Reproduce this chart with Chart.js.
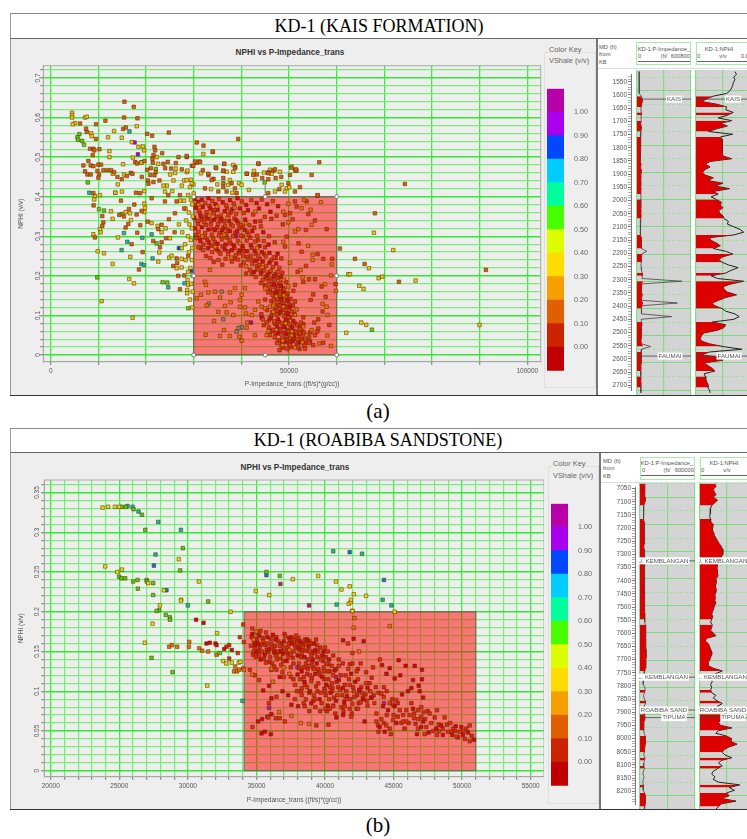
<!DOCTYPE html>
<html>
<head>
<meta charset="utf-8">
<title>KD-1 crossplots</title>
<script src="https://cdn.jsdelivr.net/npm/chart.js@4/dist/chart.umd.min.js"></script>
<style>
html, body { margin: 0; padding: 0; background: #fff; width: 747px; height: 839px; overflow: hidden; }
canvas { position: absolute; filter: blur(0.3px); }
.box { position: absolute; box-sizing: border-box; }
.t { position: absolute; white-space: nowrap; font-family: "Liberation Sans", sans-serif; font-size: 6.5px; color: #555; line-height: 1; }
.serif { font-family: "Liberation Serif", serif; color: #000; transform: translateX(-50%); }
.panelTitle { font-size: 18px; }
.caption { font-size: 21px; }
.chartTitle { font-weight: bold; font-size: 8.2px; color: #333; transform: translateX(-50%); }
.key { font-size: 7.4px; color: #666; }
.hdr { font-size: 5.8px; color: #555; }
.mid { transform: translateX(-50%); }
.end { transform: translateX(-100%); }
</style>
</head>
<body>
<!-- panel a frame -->
<div class="box" style="left:10px;top:13px;width:737px;height:26px;border-top:1.5px solid #888;border-left:1.5px solid #999;border-bottom:1.5px solid #666"></div>
<div class="box" style="left:10px;top:39px;width:586px;height:356px;background:#eee;border-left:1.5px solid #999"></div>
<div class="box" style="left:596px;top:39px;width:2px;height:356px;background:#777"></div>
<div class="box" style="left:10px;top:395px;width:737px;height:1px;background:#333"></div>
<div class="box" style="left:544px;top:52px;width:52px;height:336px;border:1px solid #dedede;border-top:1px solid #e2e2e2"></div>
<div class="t serif panelTitle" style="left:379px;top:17px">KD-1 (KAIS FORMATION)</div>
<div class="t serif caption" style="left:378px;top:401px">(a)</div>
<div class="t chartTitle" style="left:290px;top:49px">NPHI vs P-Impedance_trans</div>
<div class="t key" style="left:549px;top:46px;background:#eee">Color Key</div>
<div class="t key" style="left:549px;top:57px;background:#eee">VShale (v/v)</div>
<div class="t hdr" style="left:599px;top:45px">MD (ft)</div>
<div class="t hdr" style="left:599px;top:52px">from</div>
<div class="t hdr" style="left:599px;top:60px">KB</div>
<div class="box" style="left:598px;top:68px;width:149px;height:1px;background:#ddd"></div>
<div class="box" style="left:636px;top:42px;width:55px;height:23px;border:1.5px solid #a8eaa8"></div>
<div class="box" style="left:696px;top:42px;width:56px;height:23px;border:1.5px solid #a8eaa8"></div>
<div class="t hdr mid" style="left:664px;top:47px">KD-1:P-Impedance_</div>
<div class="t hdr" style="left:638px;top:54px">0</div>
<div class="t hdr mid" style="left:664px;top:54px">(ft/</div>
<div class="t hdr end" style="left:690px;top:54px">600800</div>
<div class="box" style="left:638px;top:61px;width:52px;height:1px;background:#666"></div>
<div class="t hdr mid" style="left:719px;top:47px">KD-1:NPHI</div>
<div class="t hdr" style="left:697px;top:54px">0</div>
<div class="t hdr mid" style="left:723px;top:54px">v/v</div>
<div class="t hdr" style="left:741px;top:54px">0.8</div>
<div class="box" style="left:697px;top:61px;width:50px;height:1px;background:#666"></div>

<!-- panel b frame -->
<div class="box" style="left:10px;top:428px;width:737px;height:25px;border-top:1.5px solid #888;border-left:1.5px solid #999;border-bottom:1.5px solid #666"></div>
<div class="box" style="left:10px;top:453px;width:589px;height:356px;background:#eee;border-left:1.5px solid #999"></div>
<div class="box" style="left:599px;top:453px;width:2px;height:356px;background:#777"></div>
<div class="box" style="left:10px;top:809px;width:737px;height:1px;background:#333"></div>
<div class="box" style="left:548px;top:466px;width:51px;height:338px;border:1px solid #dedede"></div>
<div class="t serif panelTitle" style="left:378px;top:431px">KD-1 (ROABIBA SANDSTONE)</div>
<div class="t serif caption" style="left:378px;top:815px">(b)</div>
<div class="t chartTitle" style="left:295px;top:464px">NPHI vs P-Impedance_trans</div>
<div class="t key" style="left:553px;top:460px;background:#eee">Color Key</div>
<div class="t key" style="left:553px;top:472px;background:#eee">VShale (v/v)</div>
<div class="t hdr" style="left:603px;top:459px">MD (ft)</div>
<div class="t hdr" style="left:603px;top:466px">from</div>
<div class="t hdr" style="left:603px;top:474px">KB</div>
<div class="box" style="left:601px;top:482px;width:146px;height:1px;background:#ddd"></div>
<div class="box" style="left:640px;top:457px;width:55px;height:23px;border:1.5px solid #a8eaa8"></div>
<div class="box" style="left:700px;top:457px;width:54px;height:23px;border:1.5px solid #a8eaa8"></div>
<div class="t hdr mid" style="left:667px;top:461px">KD-1:P-Impedance_</div>
<div class="t hdr" style="left:642px;top:468px">0</div>
<div class="t hdr mid" style="left:667px;top:468px">(ft/</div>
<div class="t hdr end" style="left:694px;top:468px">600000</div>
<div class="box" style="left:641px;top:475px;width:53px;height:1px;background:#666"></div>
<div class="t hdr mid" style="left:724px;top:461px">KD-1:NPHI</div>
<div class="t hdr" style="left:701px;top:468px">0</div>
<div class="t hdr mid" style="left:727px;top:468px">v/v</div>
<div class="box" style="left:701px;top:475px;width:46px;height:1px;background:#666"></div>

<canvas id="kaisScatter" width="533" height="335" style="left:11px;top:60px"></canvas>
<canvas id="kaisKey" width="50" height="300" style="left:544px;top:80px"></canvas>
<canvas id="kaisDepthAxis" width="34" height="325" style="left:598px;top:70px"></canvas>
<canvas id="kaisImpTrack" width="56" height="325" style="left:636px;top:70px"></canvas>
<canvas id="kaisNphiTrack" width="56" height="325" style="left:695px;top:70px"></canvas>

<canvas id="roabibaScatter" width="533" height="335" style="left:11px;top:474px"></canvas>
<canvas id="roabibaKey" width="50" height="300" style="left:548px;top:495px"></canvas>
<canvas id="roabibaDepthAxis" width="34" height="326" style="left:602px;top:483px"></canvas>
<canvas id="roabibaImpTrack" width="57" height="326" style="left:639px;top:483px"></canvas>
<canvas id="roabibaNphiTrack" width="55" height="326" style="left:699px;top:483px"></canvas>

<script>
// colour key
const keyBands = [[-0.1,0],[0,0.1],[0.1,0.2],[0.2,0.3],[0.3,0.4],[0.4,0.5],[0.5,0.6],[0.6,0.7],[0.7,0.8],[0.8,0.9],[0.9,1],[1,1.1]];
const keyColors = ['#c00000','#cc2400','#e06000','#f5a000','#ffdc00','#dcff00','#48ff00','#00ff9c','#00ccff','#0048ff','#aa00f0','#b800a8'];

// panel a crossplot, [P-impedance, NPHI], grouped by VShale colour
const kaisDeepRed = [
[30200,.395],[30900,.387],[31700,.392],[33100,.396],[34600,.381],[36100,.386],[37600,.391],[39200,.396],[41000,.379],[43200,.384],[45400,.381],[47700,.376],
[30400,.372],[31900,.374],[33500,.37],[35000,.367],[36500,.363],[38100,.368],[39700,.37],[41400,.366],[43700,.37],[46100,.362],
[30100,.347],[31500,.35],[32900,.345],[34300,.342],[35800,.344],[37400,.339],[39000,.34],[40800,.342],[42900,.337],
[30300,.32],[31700,.323],[33100,.317],[34500,.315],[36000,.316],[37600,.313],[39100,.312],[40700,.316],[42300,.313],[44600,.31],
[31400,.288],[33200,.284],[35000,.281],[36700,.279],[38400,.277],[40200,.276],[42000,.278],[43800,.275],[45700,.279],
[33000,.27],[34800,.268],[36500,.267],[38000,.265],[39600,.264],[41200,.262],[42800,.263],[44300,.26],[45900,.258],[47600,.256],
[43100,.238],[44500,.236],[45900,.233],[47300,.231],[42700,.21],[44100,.206],[45500,.203],[46900,.2],[48300,.198],
[46900,.178],[48300,.175],[47300,.16],[48800,.157],[48200,.141],[49600,.138],[48700,.124],[50100,.12],[48200,.108],[49800,.105],
[46100,.093],[47700,.09],[49300,.088],[50900,.086],[47500,.072],[49100,.07],[50700,.068],[47800,.054],[49400,.052],[51000,.05],[49200,.033],[50800,.035],[52400,.032]
];
const kaisRed = [
[32400,.384],[33900,.389],[35300,.394],[36800,.378],[38400,.383],[40100,.388],[42100,.391],[44300,.393],[46600,.389],
[31100,.365],[32700,.361],[34200,.358],[35700,.352],[37300,.354],[38900,.357],[40500,.359],[42500,.355],[44900,.349],[47400,.352],
[30800,.339],[32200,.336],[33600,.33],[35100,.331],[36600,.327],[38200,.326],[39900,.329],[41700,.328],[44100,.325],
[31000,.311],[32400,.308],[33800,.304],[35300,.302],[36800,.305],[38300,.3],[39900,.302],[41500,.304],[43300,.301],[45800,.3],
[30500,.295],[32300,.297],[34100,.294],[35900,.292],[37500,.29],[39300,.288],[41100,.289],[42900,.287],[44700,.288],[47000,.285],
[31000,.272],[32000,.265],[33900,.26],[35600,.256],[37200,.255],[38800,.252],[40400,.25],[42000,.251],[43500,.25],[45100,.249],[46800,.247],
[33500,.245],[35200,.24],[36700,.243],[38000,.236],[39300,.241],[40500,.234],[41500,.24],[42300,.23],[43800,.228],[45200,.225],[46600,.222],[48000,.22],
[41800,.215],[43400,.216],[44800,.214],[46200,.212],[47600,.21],[43000,.197],[44500,.19],[45800,.186],[47000,.189],[48100,.183],
[45200,.175],[46100,.17],[47600,.167],[49000,.165],[45600,.158],[46500,.152],[48000,.149],[49500,.146],[46800,.14],[47500,.133],[48900,.13],[47200,.122],[48000,.116],[49400,.113],[46500,.108],[47400,.102],[49000,.098],[50600,.11],
[44500,.09],[45300,.082],[46900,.085],[48500,.08],[50100,.078],[51700,.075],[52500,.082],[45800,.07],[46700,.064],[48300,.062],[49900,.06],[51500,.058],[52300,.065],[53100,.057],
[46000,.05],[47000,.045],[48600,.044],[50200,.042],[51800,.04],[52600,.047],[53400,.038],[54200,.045],[47500,.03],[48400,.024],[50000,.027],[51600,.026],[53200,.024],[48000,.012],[49700,.015],
[56000,.403],[55440,.34],[57890,.318],[52640,.261],[56000,.255],[57190,.243],[59070,.243],[53550,.225],[51800,.21],[48380,.244],[55440,.191],[54180,.191],[53000,.185],[56840,.173],[59770,.179],[55090,.153],[57680,.147],[54530,.139],[57050,.11],[56140,.09],[58450,.076],[56140,.067],[55300,.082],[57190,.031],[54250,.031],[55090,.025],[51950,.021],[53340,.016],[50200,.025],[49500,.038],[52290,.055],[55440,.05],[55930,.059],[53000,.095],[49850,.095],[50200,.124],[51250,.135],[50900,.162],[51250,.177],[54040,.356],[51250,.388],[51600,.375],[53690,.388],[50200,.358],[50760,.343],[49150,.354],[53550,.316],[49500,.299],[52000,.282],[49150,.274]
];
const kaisDense = [
[30600,.378],[31300,.358],[31800,.341],[32600,.329],[33300,.377],[34050,.366],[34800,.349],[35450,.338],[36250,.322],[37000,.371],[37750,.36],[38550,.345],[39350,.333],[40300,.324],[30450,.303],[31250,.297],[32050,.279],[32850,.291],[33650,.276],[34450,.285],[35250,.262],[36050,.274],[36900,.297],[37700,.282],[38550,.27],[39450,.257],[40350,.269],[41250,.248],[42150,.271],[43050,.255],[30950,.331],[32500,.35],[34000,.318],[35550,.309],[37100,.317],[38700,.309],[40300,.3],[41900,.296],[43500,.29],[45000,.272],
[33700,.34],[34950,.322],[36350,.338],[37800,.33],[39500,.32],[41200,.311],[42700,.322],[44000,.338],[46300,.344],[48700,.33],[31500,.27],[32600,.25],[34200,.235],[36000,.228],[37300,.262],[38500,.244],[39900,.226],[41000,.206],[40500,.262],[42500,.24],[43900,.243],[44800,.255],[46300,.24],[47200,.245],
[42200,.205],[43300,.225],[44400,.212],[45100,.198],[45900,.209],[46500,.193],[47200,.205],[47800,.195],[48600,.208],[44100,.182],[44900,.176],[45500,.192],[46300,.18],[47100,.172],[47900,.179],[48700,.17],[49400,.184],[46000,.164],[46700,.157],[47400,.152],[48200,.161],[48900,.147],[49700,.155],[50300,.142],[46300,.136],[47100,.145],[47800,.127],[48500,.135],[49200,.122],[50000,.13],[50800,.125],[47000,.112],[47800,.105],[48500,.113],[49300,.102],[50200,.095],[51100,.104],[46300,.098],[45800,.088],[47000,.079],[47900,.083],[48800,.074],[49700,.082],[50500,.072],[51300,.08],[52200,.07],[53000,.078],[46300,.06],[47200,.055],[48000,.066],[48800,.056],[49600,.063],[50400,.053],[51200,.06],[52000,.052],[52800,.059],[53700,.05],[54500,.057],[47800,.037],[48600,.032],[49400,.04],[50300,.033],[51100,.041],[51900,.034],[52700,.04],[53500,.03],[54400,.034],[48800,.018],[50400,.02],[52200,.015],[44700,.075],[44200,.103],[45400,.113],[45000,.14]
];
const kaisBrown = [
[56700,.386],[54740,.329],[54040,.276],[54950,.253],[54950,.24],[58930,.229],[52430,.215],[50200,.233],[58800,.201],[52850,.196],[57540,.179],[59840,.162],[57890,.122],[57050,.129],[58100,.101],[58030,.049],[56350,.029],[58790,.023],[52780,.032],[51250,.018],[48660,.025],[50550,.05],[53690,.05],[54740,.063],[51250,.101],[51600,.115],[48800,.122],[49150,.147],[49850,.173],[48940,.151],[52650,.371],[49850,.382],[53130,.392],[54530,.367],[48800,.362],[49850,.335],[51950,.318],[51250,.312],[48800,.286],
[30625,.143],[31530,.152],[32370,.185],[32580,.177],[33070,.158],[34470,.16],[37610,.158],[38660,.169],[32720,.125],[35170,.109],[36570,.124],[37750,.133],[35520,.145],[38310,.101],[36910,.108],[34260,.086],[36360,.063],[32510,.051],[35520,.048],[37610,.048],[39570,.046],[40060,.036],[41110,.069],[41250,.082],[42860,.05],[45300,.05],[40760,.12],[39710,.122],[40970,.105],[42160,.101],[42860,.114],[39710,.139],[40060,.152],[40760,.169],[43560,.135],[44250,.122],[44950,.118],[46000,.122],[46700,.109],
[31000,.38],[34900,.375],[38600,.372],[42900,.362],[33300,.352],[37100,.346],[41000,.333],[36400,.304],[31800,.3],[39700,.282],[34500,.273],[43300,.27],[37900,.246],[41000,.224],[44400,.222],[45000,.168],[48900,.19],[47300,.148],[46700,.125],[49300,.08],[45700,.06],[48700,.036],[50600,.06],[53000,.072],[33400,.215]
];
const kaisOrange = [
[15470,.64],[17430,.627],[15400,.6],[18200,.598],[9520,.583],[11480,.592],[6160,.585],[20230,.559],[21280,.554],[24780,.562],[39340,.546],[30660,.537],[32060,.529],[34020,.513],
[15190,.571],[15750,.575],[7560,.564],[7420,.572],[9520,.546],[8260,.521],[8960,.521],[9170,.517],[10220,.52],[8820,.505],[7910,.49],[6860,.479],[8400,.479],[8960,.477],[10010,.481],[10570,.481],[7210,.464],[7700,.456],[8400,.456],[9800,.465],[10150,.456],[10010,.448],[11060,.467],[11900,.467],[12670,.467],[13300,.462],
[14000,.45],[14910,.444],[15960,.452],[16800,.46],[17150,.458],[19110,.45],[17710,.488],[18130,.484],[19670,.49],[20230,.468],[21000,.472],[22050,.462],[20860,.455],[21770,.454],[20370,.441],[20510,.433],[21560,.437],[22820,.441],[21770,.526],[21910,.517],[21560,.505],[21350,.496],[23380,.51],[21420,.486],
[23660,.483],[24570,.488],[26250,.485],[24010,.472],[25270,.471],[26810,.5],[28560,.5],[27510,.469],[29610,.478],[30660,.486],[31360,.488],[31920,.467],[33110,.454],[34160,.445],[34720,.472],[36260,.465],[36400,.483],[38710,.475],[43610,.483],[41160,.458],[43260,.456],[45710,.462],[46760,.466],[48370,.45],[50470,.473],[51310,.466],
[28520,.503],[33980,.514],[30270,.489],[29920,.478],[33070,.458],[36420,.483],[38660,.472],[36210,.466],[36210,.447],[33770,.442],[36210,.434],[37960,.434],[36210,.424],[38660,.421],[32370,.421],[35170,.413],[36910,.413],[39010,.409],[41110,.458],[42500,.455],[43550,.484],[44390,.447],[45650,.459],[47050,.469],[47190,.447],[45650,.444],[49850,.434],[50200,.455],[51450,.469],[56340,.487],[54740,.455],[45650,.409],[47960,.419],[51240,.413],[52290,.424],[56000,.404],
[8940,.409],[9010,.378],[10830,.351],[11040,.335],[10830,.326],[9290,.297],[14390,.354],[15370,.35],[16280,.331],[15720,.322],[14740,.39],[17890,.41],[18730,.409],[17540,.38],[16420,.369],[18030,.355],[19080,.364],[18800,.328],[18170,.309],[16980,.28],[19290,.26],[18520,.216],
[20340,.337],[23270,.329],[22570,.318],[21520,.288],[23270,.285],[24180,.295],[22920,.272],[26420,.244],[25720,.225],[26560,.232],[28860,.25],[27110,.166],[26770,.2],[28030,.201],
[21170,.396],[24670,.404],[27110,.404],[23970,.388],[26420,.388],[26070,.358],[28000,.37],[24800,.343],[26000,.31],
[74310,.432],[68020,.358],[60680,.269],[63830,.243],[65850,.23],[73050,.185],[91300,.215]
];
const kaisYellow = [
[4480,.612],[4480,.606],[4480,.6],[5110,.586],[4620,.583],[7210,.6],[7560,.602],[18060,.578],[14910,.549],[13300,.566],[12040,.55],[8470,.56],[8610,.553],[17010,.538],[18410,.526],[19320,.527],[19600,.517],[12320,.515],[12320,.5],[13020,.458],[14070,.431],[15400,.456],[15190,.482],[17220,.499],[19040,.486],[22260,.5],[22540,.483],[26250,.471],[25060,.456],[26110,.46],[28560,.462],[28700,.466],[25760,.441],[24360,.428],[23660,.428],[28000,.441],[29400,.443],[27510,.428],[29960,.431],[29400,.392],
[30000,.408],[29220,.424],[29570,.434],[28520,.442],[32020,.508],[31110,.489],[31530,.459],[34600,.474],[38300,.48],[36910,.463],[38310,.463],[34960,.431],[37260,.43],[37610,.442],[39500,.434],[40060,.43],[33630,.419],[38100,.41],[41590,.417],[42650,.465],[42860,.442],[44740,.461],[46000,.468],[46350,.458],[48100,.463],[48450,.43],[49500,.421],[50540,.476],[51590,.466],[47050,.413],[49150,.413],[50050,.424],
[9290,.402],[10340,.404],[9150,.393],[12650,.363],[12990,.344],[10340,.318],[10480,.31],[8940,.305],[15720,.361],[16630,.358],[19640,.383],[19780,.372],[19640,.361],[16840,.341],[14110,.297],[13550,.41],[14950,.413],[19640,.414],[9850,.262],[11180,.257],[16700,.248],[13000,.23],[16490,.192],[17470,.181],[10690,.136],[17190,.094],
[21170,.333],[22430,.326],[23270,.31],[24110,.32],[25000,.295],[22780,.259],[24880,.246],[25370,.251],[27470,.243],[26420,.219],[27470,.221],[28860,.177],[28650,.164],[28650,.156],[28860,.21],[22570,.236],[25510,.414],[23970,.413],[28860,.404],
[62430,.204],[62780,.204],[67810,.309],[71870,.265],[66760,.219],[68790,.194],[69560,.198],[76550,.188],[64740,.175],[65640,.167],[65160,.082],[66200,.076],[62010,.056],[89970,.076],
[28400,.34],[29100,.33],[29600,.32],[28800,.3],[29400,.29],[29700,.27],[29000,.26],[29600,.24],[28300,.24],[29300,.22],[29800,.2],[28700,.19],[29500,.18],[29800,.16],[29200,.14],[29700,.12],[26900,.33],[27600,.31],[28200,.28],[27500,.27],[29000,.36],[29800,.35],[28300,.37],[27200,.39],[28000,.39],[29700,.38]
];
const kaisGreen = [[6020,.558],[5600,.55],[5740,.544],[6580,.541],[7000,.531],[7770,.436],[10130,.368],[11180,.365],[13550,.41],[14880,.356],[22220,.282],[9780,.196],[23480,.184],[24460,.183],[28860,.118],[67390,.064],[22050,.47],[44880,.436]];
const kaisTeal = [[16520,.565],[19040,.487],[15370,.308],[21170,.305],[16070,.286],[19220,.296],[14880,.265],[19010,.23],[19570,.227],[21380,.244],[24670,.171],[28090,.181],[8100,.41]];
const kaisBlue = [[29420,.212],[26900,.27]];
const kaisPurple = [[17600,.537],[18300,.507]];
const kaisDim = [[35860,.16],[40060,.07],[39000,.059],[39400,.068],[36200,.09],[33200,.13]];
const kaisMagenta = [[44250,.095],[42020,.082],[38900,.3]];

// panel b crossplot
const roabibaDeepRed = [
[34700,.172],[35200,.17],[35100,.16],[35800,.168],[35900,.153],[36400,.165],[36300,.149],[37000,.163],[36900,.147],[37600,.16],[38200,.163],[38000,.145],[38700,.165],[38500,.143],[39200,.16],[39100,.14],[39800,.145],[39400,.135],[40300,.14],[35300,.14],[37200,.138],[38300,.125],
[34900,.158],[35600,.146],[36200,.171],[36800,.151],[37400,.167],[38100,.153],[38800,.156],[39300,.152],[39900,.15],[35000,.149],
[38000,.121],[38500,.112],[38900,.1],[39300,.122],[39800,.118],[40100,.108],[40400,.098],[40700,.126],[41000,.114],[41300,.104],[41600,.094],[41900,.122],[42200,.112],[42500,.102],[42800,.09],[43100,.104],[43400,.092],[39000,.085],[39600,.09],[40200,.082],[40800,.088],[41400,.086],
[47020,.055],[48480,.057],[49530,.056],[50060,.045],[50860,.039],[49280,.045],[48120,.053],[46710,.046],[47560,.048],[45200,.06],[44350,.049],[43990,.055],[45080,.081],[44600,.076],[44230,.081],[46420,.078],[47150,.062],[48600,.045],[49940,.055],[50430,.048],[30600,.19],[31140,.186],[31360,.16],[31600,.161],[32010,.16],[32650,.153],[33200,.152],
[42820,.163],[42090,.166],[41320,.164],[45370,.139],[45880,.132],[47070,.127],[46540,.132],[47070,.115],[46420,.114],[45490,.12],[44720,.129],[44160,.133],[45080,.116],[44480,.122],[46300,.104],[46830,.107],[46900,.1],[45620,.096],[46050,.1],[47150,.092],
[35370,.047],[35610,.049],[36050,.046],[35120,.062],[35410,.065],[36090,.071],[35490,.101],[35920,.107],[36090,.127],[36700,.118],[36900,.1],[37310,.095],[36090,.091],[37550,.083],[38040,.081],[41320,.07],[40830,.067],[42890,.062]
];
const roabibaRed = [
[34900,.166],[35500,.163],[34600,.157],[36100,.16],[35400,.15],[36700,.157],[36000,.143],[37300,.155],[36500,.14],[37900,.17],[37700,.15],[38400,.156],[38900,.15],[38100,.135],[39500,.15],[38800,.132],[40000,.155],[39900,.13],[34800,.15],[36800,.133],[37500,.13],[38900,.12],
[34700,.179],[35300,.176],[35700,.174],[36100,.155],[36600,.163],[37100,.169],[37500,.146],[37800,.158],[38300,.148],[38600,.159],[39000,.145],[39400,.158],[39700,.14],[40200,.15],[40500,.132],[40100,.135],[35700,.136],[36300,.131],[36900,.124],[37500,.118],
[34900,.155],[35200,.145],[35800,.16],[36400,.145],[37000,.155],[37300,.143],[38000,.16],[38600,.135],[39200,.128],[40600,.12],[39500,.11],[40000,.1],[40500,.11],[41100,.102],[41500,.12],[41800,.108],[42100,.1],[42400,.115],[42700,.098],[43000,.11],[43300,.1],[43600,.085],
[38200,.115],[38700,.105],[39200,.095],[38300,.095],[37800,.108],[39700,.098],[40300,.09],[40900,.095],[41500,.09],[42000,.084],[42600,.086],[43100,.082],[38600,.09],[39300,.08],[40000,.078],[40600,.082],[41200,.08],[41800,.078],[42300,.078],[37800,.09],[38300,.104],[39000,.113],[39900,.125],[40500,.1],[41000,.132],[41700,.128],[42300,.125],
[50550,.037],[50300,.053],[50550,.057],[49820,.049],[49330,.053],[49140,.06],[49210,.049],[48970,.049],[48600,.053],[48720,.067],[48170,.076],[47630,.072],[47750,.06],[47390,.055],[46780,.053],[47270,.046],[48170,.045],[47020,.068],[47190,.074],[47020,.08],[46780,.076],[45930,.076],[46170,.07],[46490,.066],[45930,.062],[45570,.06],[44720,.053],[43750,.062],[43870,.057],[44470,.057],[44960,.064],[43750,.072],[44110,.065],[44960,.083],[44720,.085],[45200,.089],[45450,.076],[45690,.062],[44280,.093],[44110,.097],[45000,.07],[46800,.065],[48300,.05],[49600,.043],[50100,.05],
[34030,.184],[33790,.168],[34080,.162],[33640,.148],[33010,.158],[32810,.156],[32090,.158],[33010,.141],[42000,.148],[41680,.16],[44000,.14],
[34710,.055],[35850,.067],[36410,.066],[36700,.066],[35190,.114],[36460,.127],[37000,.118],[36460,.093],[38520,.081],[34520,.127],[34880,.12],[39370,.057],[40250,.058],[41920,.068],[42410,.078],[40340,.078],[40590,.081],[41440,.081],[35900,.085],[37070,.062]
];
const roabibaDense = [
[34650,.168],[34850,.162],[35050,.174],[35250,.156],[35450,.167],[35650,.158],[35850,.149],[36050,.166],[36250,.153],[36450,.168],[36650,.148],[36850,.16],[37050,.172],[37250,.148],[37450,.162],[37650,.142],[37850,.155],[38050,.167],[38250,.143],[38450,.16],[38650,.151],[38850,.163],[39050,.136],[39250,.148],[39450,.143],[39650,.155],[39850,.138],[40050,.143],[40250,.134],[34750,.146],[35150,.151],[35550,.141],[35950,.137],[36350,.157],[36750,.142],[37150,.15],[37550,.168],[37950,.162],[38350,.152],[38750,.14],[39150,.13],[39550,.125],[39950,.115],[40350,.125],
[35050,.165],[35350,.159],[35750,.152],[36550,.15],[36950,.138],[37350,.16],[37750,.165],[38150,.158],[38550,.165],[38950,.16],[39350,.165],[34950,.143],[36150,.135],[37700,.135],[38450,.13],
[38150,.129],[38450,.118],[38750,.128],[39050,.117],[39350,.106],[39650,.12],[39950,.103],[40250,.115],[40550,.104],[40850,.112],[41150,.12],[41450,.108],[41750,.115],[42050,.105],[42350,.095],[42650,.105],[42950,.096],[43250,.11],[43550,.095],[38250,.1],[38550,.108],[38850,.098],[39150,.088],[39450,.1],[39750,.085],[40050,.095],[40350,.105],[40650,.092],[40950,.105],[41250,.095],[41550,.1],[41850,.09],[42150,.093],[42450,.085],[42750,.092],[43050,.088],[43350,.092],[38450,.085],[38850,.075],[39250,.09],[39650,.075],[40150,.075],[40750,.072],[41350,.075],[41950,.072],[37950,.1],[37700,.115],[38700,.122],[39500,.128],[40200,.125],[40800,.128],[41300,.135],[41800,.134],[42400,.128],[43000,.124],[43400,.117],[43700,.105],[43900,.098],[44300,.105],[42000,.135],[41000,.14],[40600,.145],[42600,.135],[43500,.13],
[44500,.07],[45300,.068],[46100,.06],[46600,.059],[47300,.065],[47900,.05],[48300,.058],[48900,.058],[49500,.05],[49700,.042],[50200,.04],[50700,.044],[45800,.053],[44800,.046],[43900,.049],[44300,.06],[44900,.09],[44500,.1],[45300,.085],[45700,.07],[47500,.075],[48000,.067],[46300,.085],[46500,.072]
];
const roabibaOrange = [
[42480,.15],[42090,.18],[42140,.192],[42000,.201],[44720,.182],[30070,.156],[28640,.156],[28830,.158],[29220,.156],[30100,.162],[30820,.154],[31040,.151],[31480,.15],[32090,.146],[34030,.129],[33450,.131],[33370,.125],[33590,.125],[33740,.127],[34080,.127],[36650,.074],[37550,.069],[38230,.06],[38840,.059],[36700,.145],[37400,.152],[36100,.128],[34700,.121],[36200,.112],[34800,.165],[35000,.175],[37400,.122],[37000,.13]
];
const roabibaYellow = [
[23780,.331],[24190,.332],[24680,.332],[24990,.332],[23970,.257],[24850,.25],[25190,.253],[29340,.266],[30800,.238],[28250,.227],[29510,.215],[37650,.241],[34950,.226],[35930,.221],[27960,.208],[27420,.185],[29490,.214],[33110,.2],[32130,.173],[26860,.161],[32570,.138],[32790,.135],[33200,.136],[33710,.136],[33830,.137],[31410,.107],[41730,.21],[41880,.212],[42000,.201],
[45080,.2],[27110,.236],[39500,.245],[40800,.238],[41800,.232],[41200,.228],[42100,.222],[41900,.215],[43000,.22]
];
const roabibaGreen = [
[25190,.332],[25480,.332],[26040,.329],[26650,.322],[29630,.28],[26890,.303],[29440,.252],[24990,.244],[25160,.242],[25430,.242],[26010,.238],[26330,.24],[26350,.229],[26990,.24],[27010,.238],[27470,.236],[27470,.221],[31480,.213],[27910,.202],[27720,.201],[28390,.196],[28690,.193],[28690,.19],[27350,.142],[28880,.124],[32330,.148],[35730,.25],[36700,.245]
];
const roabibaTeal = [[25600,.333],[25970,.332],[26400,.326],[27840,.313],[29490,.303],[27640,.272],[30000,.208],[33980,.088],[40850,.209],[40600,.276],[44840,.208],[42700,.273],[44200,.215]];
const roabibaBlue = [[27520,.258],[28440,.227],[35730,.246],[41800,.275],[44300,.24]];
const roabibaMagenta = [[36750,.235],[38840,.208],[35920,.079],[35800,.068],[39200,.15],[38000,.13],[40800,.118],[44300,.085],[42500,.1]];

// well log tracks, depth in ft
const kaisDepth = [1530,1540,1550,1560,1570,1580,1590,
1600,1610,1620,1630,1640,1650,1660,1670,1680,1690,
1700,1710,1720,1730,1740,1750,1760,1770,1780,1790,
1800,1810,1820,1830,1840,1850,1860,1870,1880,1890,
1900,1910,1920,1930,1940,1950,1960,1970,1980,1990,
2000,2010,2020,2030,2040,2050,2060,2070,2080,2090,
2100,2110,2120,2130,2140,2150,2160,2170,2180,2190,
2200,2210,2220,2230,2240,2250,2260,2270,2280,2290,
2300,2310,2320,2330,2340,2350,2360,2370,2380,2390,
2400,2410,2420,2430,2440,2450,2460,2470,2480,2490,
2500,2510,2520,2530,2540,2550,2560,2570,2580,2590,
2600,2610,2620,2630,2640,2650,2660,2670,2680,2690,2700,2710];
const kaisNphi = [.72,.75,.7,.72,.69,.68,.66,
.63,.57,.32,.2,.1,.39,.57,.55,.69,.58,
.41,.66,.45,.58,.38,.23,.68,.45,.49,.49,
.49,.49,.49,.49,.5,.66,.26,.17,.26,.17,
.12,.17,.32,.22,.5,.35,.62,.32,.41,.28,
.38,.47,.45,.5,.42,.44,.5,.52,.6,.58,
.7,.82,.88,.7,.25,.28,.38,.45,.32,.55,
.68,.5,.42,.48,.6,.78,.65,.55,.28,.4,
.88,.65,.5,.52,.58,.75,.55,.42,.3,.35,
.48,.55,.72,.8,.7,.3,.55,.52,.4,.15,
.1,.08,.1,.25,.5,.85,.25,.1,.42,.5,
.15,.22,.3,.35,.15,.17,.18,.2,.22,.22,.25,.26];
const kaisImp = [24000,23000,25000,24000,23000,24000,25000,
26000,28000,48000,56000,60000,52000,45000,42000,50000,47000,
44000,48000,42000,46000,50000,44000,40000,42000,38000,37000,
36000,36000,35000,35000,38000,42000,44000,46000,42000,45000,
48000,44000,46000,42000,44000,40000,46000,43000,40000,45000,
42000,44000,40000,43000,46000,44000,48000,42000,40000,44000,
38000,36000,34000,36000,50000,54000,48000,52000,46000,108000,
52000,48000,46000,50000,44000,46000,50000,58000,60000,54000,
497000,52000,46000,50000,54000,60000,52000,48000,450000,56000,
50000,52000,48000,386000,44000,52000,56000,50000,48000,52000,
46000,50000,44000,52000,152000,48000,46000,52000,48000,46000,
50000,44000,46000,42000,40000,44000,46000,42000,42000,42000,44000,44000];
const kaisPay = [[1612,1660],[1675,1698],[1708,1720],[1728,1755],[1765,1985],[1995,2070],[2128,2185],[2192,2235],[2262,2285],[2298,2405],[2445,2545],[2555,2635],[2645,2695]];
const kaisTops = [{name:'KAIS', depth:1631, imp:674, nphi:733},{name:'FAUMAI', depth:2575, imp:670, nphi:729}];

const roabibaDepth = [7050,7060,7070,7080,7090,
7100,7110,7120,7130,7140,7150,7160,7170,7180,7190,
7200,7210,7220,7230,7240,7250,7260,7270,7280,7290,
7300,7310,7320,7330,7340,7350,7360,7370,7380,7390,
7400,7410,7420,7430,7440,7450,7460,7470,7480,7490,
7500,7510,7520,7530,7540,7550,7560,7570,7580,7590,
7600,7610,7620,7630,7640,7650,7660,7670,7680,7690,
7700,7710,7720,7730,7740,7750,7760,7770,7780,7790,
7800,7810,7820,7830,7840,7850,7860,7870,7880,7890,
7900,7910,7920,7930,7940,7950,7960,7970,7980,7990,
8000,8010,8020,8030,8040,8050,8060,8070,8080,8090,
8100,8110,8120,8130,8140,8150,8160,8170,8180,8190,
8200,8210,8220,8230,8240,8250];
const roabibaNphi = [.28,.3,.25,.27,.3,
.25,.33,.28,.22,.2,.2,.19,.18,.2,.2,
.25,.24,.23,.26,.27,.3,.33,.36,.4,.42,
.43,.43,.4,.35,.33,.33,.32,.33,.33,.34,
.3,.31,.3,.29,.31,.3,.28,.29,.28,.3,
.27,.26,.24,.22,.24,.22,.2,.23,.22,.2,
.25,.3,.12,.1,.16,.18,.2,.22,.22,.2,
.18,.15,.15,.25,.42,.3,.2,.22,.23,.2,
.22,.2,.22,.3,.25,.32,.42,.33,.42,.45,
.5,.48,.4,.35,.38,.6,.35,.3,.5,.6,
.58,.7,.55,.45,.42,.47,.6,.4,.35,.42,
.33,.25,.22,.28,.25,.35,.75,.55,.65,.5,
.55,.4,.68,.4,.35,.3];
const roabibaImp = [50000,54000,52000,48000,50000,
56000,60000,54000,42000,40000,38000,38000,40000,38000,44000,
52000,50000,54000,52000,48000,50000,46000,44000,42000,44000,
46000,48000,46000,50000,52000,48000,50000,46000,48000,50000,
52000,50000,48000,46000,50000,54000,52000,50000,48000,52000,
50000,54000,52000,56000,54000,50000,52000,58000,60000,62000,
64000,66000,62000,60000,62000,64000,66000,68000,70000,66000,
64000,62000,64000,60000,52000,46000,40000,36000,34000,36000,
52000,56000,50000,38000,44000,56000,60000,46000,44000,48000,
52000,56000,54000,42000,40000,38000,42000,44000,58000,62000,
60000,58000,54000,48000,44000,40000,56000,48000,42000,40000,
50000,36000,32000,44000,36000,30000,38000,34000,36000,52000,
60000,62000,58000,56000,54000,48000];
const roabibaPay = [[7047,7110],[7113,7133],[7177,7250],[7255,7555],[7562,7742],[7807,7825],[7842,7868],[7896,7960],[7976,8040],[8058,8070],[8090,8103],[8123,8133],[8154,8173],[8185,8247]];
const roabibaTops = [{name:'U. KEMBLANGAN', depth:7334, imp:663, nphi:722},{name:'L. KEMBLANGAN', depth:7763, imp:663, nphi:722},{name:'ROABIBA SAND', depth:7884, imp:664, nphi:723},{name:'TIPUMA', depth:7912, imp:674, nphi:733}];

const font7 = { family: 'Liberation Sans', size: 6.5 };

// Chart.js snaps stepSize ticks to min when the range is nearly whole, so build them by hand
function stepTicks(min, max, step) {
  const list = [];
  for (let k = Math.ceil(min / step); k * step <= max; k++) list.push({ value: +(k * step).toFixed(4) });
  return list;
}

const selectionBox = {
  id: 'selectionBox',
  beforeDatasetsDraw(chart, args, opts) {
    const { x, y } = chart.scales;
    const { ctx, chartArea } = chart;
    const l = x.getPixelForValue(opts.x0), r = x.getPixelForValue(opts.x1);
    const t = y.getPixelForValue(opts.y1), b = y.getPixelForValue(opts.y0);
    ctx.save();
    ctx.fillStyle = 'rgba(255,0,0,0.5)';
    ctx.fillRect(l, t, r - l, b - t);
    ctx.strokeStyle = '#666';
    ctx.lineWidth = 1;
    ctx.strokeRect(l, t, r - l, b - t);
    ctx.restore();
    ctx.save();
    ctx.strokeStyle = '#aaa';
    ctx.lineWidth = 1;
    ctx.strokeRect(chartArea.left, chartArea.top, chartArea.width, chartArea.height);
    ctx.restore();
  },
  afterDatasetsDraw(chart, args, opts) {
    if (!opts.handles) return;
    const { x, y } = chart.scales;
    const { ctx } = chart;
    const l = x.getPixelForValue(opts.x0), r = x.getPixelForValue(opts.x1);
    const t = y.getPixelForValue(opts.y1), b = y.getPixelForValue(opts.y0);
    const cx = (l + r) / 2, cy = (t + b) / 2;
    ctx.save();
    ctx.strokeStyle = '#777';
    ctx.lineWidth = 1;
    ctx.beginPath();
    ctx.moveTo(cx, t);
    ctx.lineTo(cx, t - 12);
    ctx.stroke();
    ctx.fillStyle = '#fff';
    [[l,t],[cx,t],[r,t],[r,cy],[r,b],[cx,b],[l,b],[l,cy]].forEach(p => {
      ctx.beginPath();
      ctx.arc(p[0], p[1], 2, 0, Math.PI * 2);
      ctx.fill();
      ctx.stroke();
    });
    ctx.restore();
  }
};

function makeScatter(id, groups, o) {
  const isMajorX = v => v % o.xMajor === 0;
  const isMajorY = v => Math.round(v * 100) % Math.round(o.yMajor * 100) === 0;
  return new Chart(document.getElementById(id), {
    type: 'scatter',
    data: {
      datasets: groups.map(g => ({
        data: g.points.map(p => ({ x: p[0], y: p[1] })),
        backgroundColor: g.color,
        borderColor: 'rgba(90,35,15,0.75)',
        borderWidth: 0.7,
        pointStyle: 'rect',
        pointRadius: 2.5
      }))
    },
    options: {
      responsive: false,
      animation: false,
      layout: { autoPadding: false, padding: { top: o.padTop, right: o.padRight } },
      plugins: {
        legend: { display: false },
        tooltip: { enabled: false },
        selectionBox: o.box
      },
      scales: {
        x: {
          min: o.xMin, max: o.xMax,
          afterBuildTicks(s) { s.ticks = stepTicks(o.xMin, o.xMax, o.xStep); },
          afterFit(s) { s.height = o.xAxisH; s.paddingLeft = 0; s.paddingRight = 0; },
          title: { display: true, text: 'P-Impedance_trans ((ft/s)*(g/cc))', color: '#555', font: font7, padding: { top: 7, bottom: o.xTitleBottom } },
          ticks: {
            autoSkip: false, maxRotation: 0, color: '#555', font: font7, padding: 3,
            callback: v => (v % o.xLabelEvery === 0 ? String(v) : '')
          },
          border: { color: '#999' },
          grid: {
            color: c => (isMajorX(c.tick.value) ? '#40ea40' : '#78ee78'),
            lineWidth: c => (isMajorX(c.tick.value) ? 1.3 : 1.2),
            tickColor: '#888', tickLength: 3
          }
        },
        y: {
          min: o.yMin, max: o.yMax,
          afterBuildTicks(s) { s.ticks = stepTicks(o.yMin, o.yMax, o.yStep); },
          afterFit(s) { s.width = o.yAxisW; s.paddingTop = 0; s.paddingBottom = 0; },
          title: { display: true, text: 'NPHI (v/v)', color: '#555', font: font7, padding: { top: 6, bottom: 0 } },
          ticks: {
            autoSkip: false, minRotation: 90, maxRotation: 90, crossAlign: 'center', color: '#555', font: font7, padding: -2,
            callback: v => (isMajorY(v) ? String(+v.toFixed(2)) : '')
          },
          border: { color: '#999' },
          grid: {
            color: c => (isMajorY(c.tick.value) ? '#30ea30' : '#78ee78'),
            lineWidth: c => (isMajorY(c.tick.value) ? 1.4 : 1.2),
            tickColor: '#888', tickLength: 3
          }
        }
      }
    },
    plugins: [selectionBox]
  });
}

function makeKey(id) {
  return new Chart(document.getElementById(id), {
    type: 'bar',
    data: {
      labels: ['VShale'],
      datasets: keyBands.map((b, i) => ({
        data: [b],
        backgroundColor: keyColors[i],
        barPercentage: 1,
        categoryPercentage: 1
      }))
    },
    options: {
      responsive: false,
      animation: false,
      layout: { padding: { top: 8.7, bottom: 9.3, left: 3, right: 0 } },
      plugins: { legend: { display: false }, tooltip: { enabled: false } },
      scales: {
        x: { stacked: true, display: false },
        y: {
          position: 'right', min: -0.1, max: 1.1,
          afterFit(s) { s.width = 30; },
          border: { display: false },
          grid: { display: false },
          ticks: {
            stepSize: 0.1, autoSkip: false, color: '#666', padding: 2,
            font: { family: 'Liberation Sans', size: 7.2 },
            callback: v => (v > -0.05 && v < 1.05 ? v.toFixed(2) : '')
          }
        }
      }
    }
  });
}

function makeDepthAxis(id, min, max) {
  return new Chart(document.getElementById(id), {
    type: 'line',
    data: { datasets: [] },
    options: {
      responsive: false,
      animation: false,
      plugins: { legend: { display: false }, tooltip: { enabled: false } },
      scales: {
        x: { display: false },
        y: {
          reverse: true, min, max,
          afterBuildTicks(s) { s.ticks = stepTicks(min, max, 10); },
          afterFit(s) { s.width = 33; },
          border: { color: '#777' },
          grid: { drawOnChartArea: false, tickLength: 3, tickColor: '#777', tickWidth: c => (c.tick.value % 50 === 0 ? 1 : 0.6) },
          ticks: {
            autoSkip: false, color: '#555', padding: 1,
            font: { family: 'Liberation Sans', size: 6.5 },
            callback: v => (v % 50 === 0 ? String(v) : '')
          }
        }
      }
    }
  });
}

const formationTops = {
  id: 'formationTops',
  afterDatasetsDraw(chart, args, opts) {
    const { ctx, chartArea } = chart;
    const y = chart.scales.y;
    ctx.save();
    ctx.font = '6.2px "Liberation Sans"';
    ctx.textBaseline = 'middle';
    ctx.textAlign = 'center';
    opts.tops.forEach(top => {
      const py = y.getPixelForValue(top.depth);
      ctx.strokeStyle = '#444';
      ctx.lineWidth = 0.8;
      ctx.beginPath();
      ctx.moveTo(chartArea.left, py);
      ctx.lineTo(chartArea.right, py);
      ctx.stroke();
      const cx = top[opts.column] - opts.canvasLeft;
      const w = ctx.measureText(top.name).width + 2;
      ctx.fillStyle = '#fff';
      ctx.fillRect(cx - w / 2, py - 3.5, w, 7);
      ctx.fillStyle = '#555';
      ctx.fillText(top.name, cx, py);
    });
    ctx.restore();
  }
};

const trackBackground = {
  id: 'trackBackground',
  beforeDraw(chart) {
    const { ctx, chartArea } = chart;
    ctx.save();
    ctx.fillStyle = '#d4d4d4';
    ctx.fillRect(chartArea.left, chartArea.top, chartArea.width, chartArea.height);
    ctx.restore();
  }
};

function makeTrack(id, o) {
  const inPay = d => o.pay.some(r => d >= r[0] && d <= r[1]);
  const curve = o.depth.map((d, i) => ({ x: o.values[i], y: d }));
  const filled = o.depth.map((d, i) => ({ x: inPay(d) ? Math.min(o.values[i], o.fillCap) : null, y: d }));
  const hiddenAxis = { display: true, ticks: { display: false }, border: { display: false } };
  return new Chart(document.getElementById(id), {
    type: 'line',
    data: {
      datasets: [
        { data: filled, fill: 'origin', backgroundColor: '#dd0000', borderWidth: 0, pointRadius: 0, spanGaps: false },
        { data: curve, fill: false, borderColor: o.curveColor, borderWidth: o.curveWidth, pointRadius: 0, tension: 0 }
      ]
    },
    options: {
      indexAxis: 'y',
      responsive: false,
      animation: false,
      layout: { autoPadding: false, padding: { left: 1, right: 1 } },
      plugins: {
        legend: { display: false },
        tooltip: { enabled: false },
        formationTops: { tops: o.tops, column: o.column, canvasLeft: o.canvasLeft }
      },
      scales: {
        x: {
          ...hiddenAxis, type: 'linear', min: 0, max: o.max,
          afterBuildTicks(s) { s.ticks = [{ value: 0 }, { value: o.max / 2 }, { value: o.max }]; },
          afterFit(s) { s.height = 0; },
          grid: { color: '#86dc86', lineWidth: 1.2, drawTicks: false }
        },
        y: {
          ...hiddenAxis, type: 'linear', reverse: true, min: o.min, max: o.maxDepth,
          afterBuildTicks(s) { s.ticks = stepTicks(o.min, o.maxDepth, 50); },
          afterFit(s) { s.width = 0; },
          border: { display: false, dash: [3, 2] },
          grid: { color: '#9ee09e', drawTicks: false }
        },
        yHundreds: {
          ...hiddenAxis, axis: 'y', type: 'linear', reverse: true, min: o.min, max: o.maxDepth,
          afterBuildTicks(s) { s.ticks = stepTicks(o.min, o.maxDepth, 100); },
          afterFit(s) { s.width = 0; },
          grid: { color: '#7fd87f', drawTicks: false }
        }
      }
    },
    plugins: [trackBackground, formationTops]
  });
}

document.addEventListener('DOMContentLoaded', () => {
  makeScatter('kaisScatter', [
    { points: kaisOrange, color: '#d86400' },
    { points: kaisYellow, color: '#e6d000' },
    { points: kaisGreen, color: '#48e000' },
    { points: kaisTeal, color: '#00c8b0' },
    { points: kaisBlue, color: '#0048ff' },
    { points: kaisPurple, color: '#aa00f0' },
    { points: kaisBrown, color: '#f07000' },
    { points: kaisDeepRed, color: '#e00800' },
    { points: kaisRed, color: '#ee3800' },
    { points: kaisDense, color: '#e63000' },
    { points: kaisDim, color: '#888866' },
    { points: kaisMagenta, color: '#c00080' }
  ], {
    xMin: -1550, xMax: 102800, xStep: 10000, xMajor: 10000, xLabelEvery: 50000,
    yMin: -0.017, yMax: 0.731, yStep: 0.02, yMajor: 0.1,
    padTop: 5.7, padRight: 3.3, yAxisW: 32.3, xAxisH: 33.3, xTitleBottom: 7,
    box: { x0: 30000, x1: 60000, y0: 0, y1: 0.4, handles: true }
  });
  makeKey('kaisKey');
  makeDepthAxis('kaisDepthAxis', 1524, 2718);
  makeTrack('kaisImpTrack', { depth: kaisDepth, values: kaisImp, pay: kaisPay, max: 600800, fillCap: 70000, min: 1524, maxDepth: 2718, tops: kaisTops, column: 'imp', canvasLeft: 636, curveColor: '#444', curveWidth: 0.8 });
  makeTrack('kaisNphiTrack', { depth: kaisDepth, values: kaisNphi, pay: kaisPay, max: 1, fillCap: 1, min: 1524, maxDepth: 2718, tops: kaisTops, column: 'nphi', canvasLeft: 695, curveColor: '#222', curveWidth: 1 });

  makeScatter('roabibaScatter', [
    { points: roabibaYellow, color: '#e6e000' },
    { points: roabibaGreen, color: '#48d800' },
    { points: roabibaTeal, color: '#00c8a0' },
    { points: roabibaBlue, color: '#0080e0' },
    { points: roabibaOrange, color: '#ee7000' },
    { points: roabibaDeepRed, color: '#dc0400' },
    { points: roabibaRed, color: '#ec2c00' },
    { points: roabibaDense, color: '#e42400' },
    { points: roabibaMagenta, color: '#b02090' }
  ], {
    xMin: 19530, xMax: 55970, xStep: 1000, xMajor: 5000, xLabelEvery: 5000,
    yMin: -0.0075, yMax: 0.3657, yStep: 0.01, yMajor: 0.05,
    padTop: 6, padRight: 0, yAxisW: 33.3, xAxisH: 32.3, xTitleBottom: 5,
    box: { x0: 34100, x1: 51000, y0: 0, y1: 0.2, handles: false }
  });
  makeKey('roabibaKey');
  makeDepthAxis('roabibaDepthAxis', 7047, 8249);
  makeTrack('roabibaImpTrack', { depth: roabibaDepth, values: roabibaImp, pay: roabibaPay, max: 600000, fillCap: 80000, min: 7047, maxDepth: 8249, tops: roabibaTops, column: 'imp', canvasLeft: 639, curveColor: '#444', curveWidth: 0.8 });
  makeTrack('roabibaNphiTrack', { depth: roabibaDepth, values: roabibaNphi, pay: roabibaPay, max: 1, fillCap: 1, min: 7047, maxDepth: 8249, tops: roabibaTops, column: 'nphi', canvasLeft: 699, curveColor: '#222', curveWidth: 1 });
});
</script>
</body>
</html>
